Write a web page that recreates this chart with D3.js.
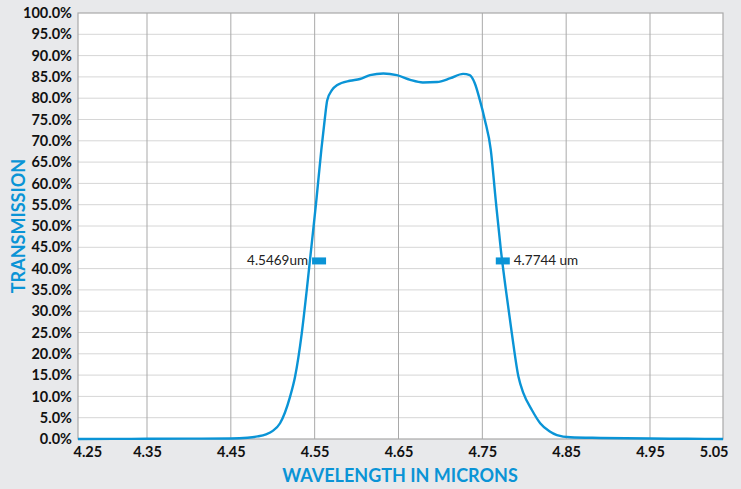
<!DOCTYPE html>
<html><head><meta charset="utf-8">
<script src="https://cdn.jsdelivr.net/npm/d3@7"></script>
<style>
html,body{margin:0;padding:0;background:#e8e9eb;}
svg{display:block;}
</style></head>
<body>
<svg id="chart" width="741" height="489"></svg>
<script>
// ---- data ----
const xTickValues = [4.25, 4.35, 4.45, 4.55, 4.65, 4.75, 4.85, 4.95, 5.05];
const xTickLabels = ["4.25","4.35","4.45","4.55","4.65","4.75","4.85","4.95","5.05"];
const yTickValues = [0,5,10,15,20,25,30,35,40,45,50,55,60,65,70,75,80,85,90,95,100];
const wavelength = [4.25,4.30,4.35,4.40,4.45,4.470,4.482,4.492,4.500,4.5087,4.5206,4.5266,4.5346,4.5406,4.5457,4.552,4.558,4.562,4.565,4.571,4.577,4.592,4.604,4.616,4.632,4.648,4.664,4.679,4.696,4.712,4.727,4.735,4.741,4.747,4.753,4.760,4.766,4.7721,4.7781,4.7852,4.7931,4.7991,4.8091,4.819,4.830,4.839,4.855,4.891,4.95,5.00,5.05];
const transmission = [0,0.02,0.05,0.08,0.12,0.3,0.6,1.1,1.9,3.7,9.9,14.6,24.8,35,44.4,56,68,75,79.5,82,83.1,84.1,84.5,85.4,85.8,85.4,84.3,83.7,83.8,84.7,85.7,85.4,83.5,79.6,74.9,68,56,44.4,35,24.8,14.6,10.7,6.8,3.7,1.8,0.9,0.4,0.25,0.1,0.05,0];
const markerNames = ["4.5469um", "4.7744 um"];
const markerX = [4.5469, 4.7744];
const markerY = [41.8, 41.8];

// ---- layout ----
const svg = d3.select("#chart");
const L = 78, R = 723, T = 13, B = 439;
const blue = "#0a94d6";

const x = d3.scaleLinear().domain([4.25, 4.35, 4.95, 5.05]).range([L, 147, 650, R]);
const y = d3.scaleLinear().domain([0, 100]).range([B, T]);

svg.append("rect").attr("x", L).attr("y", T).attr("width", R - L).attr("height", B - T).attr("fill", "#fff");

// horizontal gridlines
svg.append("g").selectAll("line").data(yTickValues.filter(v => v > 0 && v < 100)).join("line")
  .attr("x1", L).attr("x2", R).attr("y1", d => y(d)).attr("y2", d => y(d))
  .attr("stroke", "#d6d6d6").attr("stroke-width", 1);
// vertical gridlines
svg.append("g").selectAll("line").data(xTickValues.slice(1, -1)).join("line")
  .attr("x1", d => x(d)).attr("x2", d => x(d)).attr("y1", T).attr("y2", B)
  .attr("stroke", "#a9a9a9").attr("stroke-width", 1);
// border
svg.append("rect").attr("x", L).attr("y", T).attr("width", R - L).attr("height", B - T)
  .attr("fill", "none").attr("stroke", "#a9a9a9").attr("stroke-width", 1.2);

// y axis labels
const yAxis = d3.axisLeft(y).tickValues(yTickValues).tickSize(0).tickPadding(6)
  .tickFormat(d => d.toFixed(1) + "%");
const gy = svg.append("g").attr("transform", `translate(${L},0)`).call(yAxis);
gy.select(".domain").remove();
gy.selectAll("text").attr("font-family", "Lato, sans-serif").attr("font-weight", "bold")
  .attr("font-size", 14.5).attr("fill", "#111");

// x axis labels
const xAxis = d3.axisBottom(x).tickValues(xTickValues).tickSize(0).tickPadding(8)
  .tickFormat((d, i) => xTickLabels[i]);
const gx = svg.append("g").attr("transform", `translate(0,${B})`).call(xAxis);
gx.select(".domain").remove();
gx.selectAll("text").attr("font-family", "Lato, sans-serif").attr("font-weight", "bold")
  .attr("font-size", 14.5).attr("fill", "#111")
  .attr("text-anchor", (d, i) => i === 0 ? "start" : (i === xTickValues.length - 1 ? "end" : "middle"))
  .attr("dx", (d, i) => i === 0 ? -5 : (i === xTickValues.length - 1 ? 5 : 0));

// curve
const pts = wavelength.map((w, i) => [w, transmission[i]]);
svg.append("path").datum(pts)
  .attr("d", d3.line().x(d => x(d[0])).y(d => y(d[1])).curve(d3.curveMonotoneX))
  .attr("fill", "none").attr("stroke", blue).attr("stroke-width", 2.4);

// markers
markerX.forEach((mx, i) => {
  const cx = x(mx), cy = y(markerY[i]);
  const left = i === 0;
  const rx = left ? cx : cx - 7;
  svg.append("rect").attr("x", rx).attr("y", cy - 3.5).attr("width", 14).attr("height", 7).attr("fill", blue);
  svg.append("text").text(markerNames[i])
    .attr("x", left ? rx - 4 : rx + 18).attr("y", cy + 4.5)
    .attr("text-anchor", left ? "end" : "start")
    .attr("font-family", "Lato, sans-serif").attr("font-size", 13.5).attr("fill", "#222");
});

// titles
svg.append("text").text("WAVELENGTH IN MICRONS")
  .attr("x", 400).attr("y", 482).attr("text-anchor", "middle")
  .attr("font-family", "Lato, sans-serif").attr("font-weight", "bold").attr("font-size", 18).attr("fill", blue);
svg.append("text").text("TRANSMISSION")
  .attr("transform", "translate(25,226) rotate(-90)").attr("text-anchor", "middle")
  .attr("font-family", "Lato, sans-serif").attr("font-weight", "bold").attr("font-size", 18).attr("fill", blue);
</script>
</body></html>
